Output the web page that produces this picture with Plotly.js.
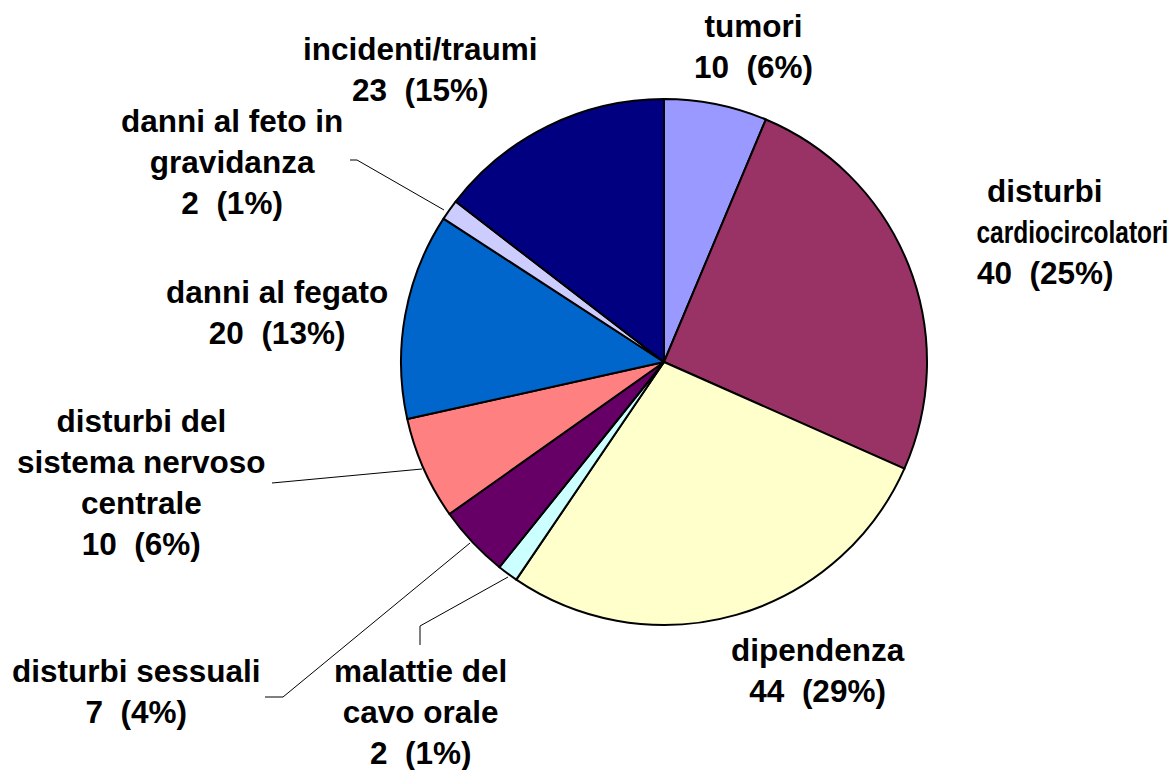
<!DOCTYPE html>
<html>
<head>
<meta charset="utf-8">
<script src="https://cdn.plot.ly/plotly-3.0.1.min.js"></script>
<style>html,body{margin:0;padding:0;background:#fff;}#chart{width:1176px;height:770px;}</style>
</head>
<body>
<div id="chart"></div>
<script>
// ---- data ----
var categories = ["tumori", "disturbi cardiocircolatori", "dipendenza", "malattie del cavo orale",
  "disturbi sessuali", "disturbi del sistema nervoso centrale", "danni al fegato",
  "danni al feto in gravidanza", "incidenti/traumi"];
var labelLines = [
  ["tumori"], ["disturbi", "cardiocircolatori"], ["dipendenza"], ["malattie del", "cavo orale"],
  ["disturbi sessuali"], ["disturbi del", "sistema nervoso", "centrale"], ["danni al fegato"],
  ["danni al feto in", "gravidanza"], ["incidenti/traumi"]];
var values = [10, 40, 44, 2, 7, 10, 20, 2, 23];
var percents = [6, 25, 29, 1, 4, 6, 13, 1, 15];
var colors = ["#9999FF", "#993366", "#FFFFCC", "#CCFFFF", "#660066", "#FF8080", "#0066CC", "#CCCCFF", "#000080"];

// ---- layout helpers (pixel -> paper) ----
var W = 1176, H = 770;
function px(x) { return x / W; }
function py(y) { return 1 - y / H; }
var FS = 31.5, LH = 1.3 * FS;
var font = {family: "Liberation Sans, Arial, sans-serif", size: FS, color: "#000", weight: "bold"};

// label anchor: center x, first-line baseline y (pixels)
var labelPos = [
  [753, 37], [1045, 202], [818, 661], [420, 682], [136, 682],
  [141, 432], [277, 303], [232, 132], [420, 60]
];

var annotations = [];
categories.forEach(function (c, i) {
  var lines = labelLines[i].concat([values[i] + "\u00A0 (" + percents[i] + "%)"]);
  if (i === 1) {
    lines.forEach(function (t, k) {
      var xc = (k === 1) ? 1072 : labelPos[i][0];
      annotations.push({text: t, xref: "paper", yref: "paper", x: px(xc),
        y: py(labelPos[i][1] + k * LH - 0.3465 * FS), xanchor: "center", yanchor: "middle",
        showarrow: false, font: font, align: "center", name: k === 1 ? "squeeze" : ""});
    });
    return;
  }
  var n = lines.length;
  var mid = labelPos[i][1] + (n - 1) * LH / 2 - 0.3465 * FS;
  annotations.push({text: lines.join("<br>"), xref: "paper", yref: "paper",
    x: px(labelPos[i][0]), y: py(mid), xanchor: "center", yanchor: "middle",
    showarrow: false, font: font, align: "center"});
});

function pathOf(pts) {
  return pts.map(function (p, k) { return (k ? "L" : "M") + px(p[0]) + "," + py(p[1]); }).join(" ");
}
var leaders = [
  [[444, 210], [357, 160], [350, 160]],
  [[422, 469], [272, 483]],
  [[470, 543], [283, 697], [265, 697]],
  [[508, 577], [420, 626], [420, 645]]
];
var shapes = leaders.map(function (pts) {
  return {type: "path", xref: "paper", yref: "paper", path: pathOf(pts),
    line: {color: "#000", width: 1}};
});

var cx = 664, cy = 362, r = 263;
var trace = {
  type: "pie",
  labels: categories,
  values: values,
  sort: false,
  direction: "clockwise",
  rotation: 0,
  marker: {colors: colors, line: {color: "#000", width: 2}},
  textinfo: "none",
  hoverinfo: "label+value",
  showlegend: false,
  domain: {x: [px(cx - r), px(cx + r)], y: [py(cy + r), py(cy - r)]}
};

var layout = {
  width: W, height: H,
  margin: {l: 0, r: 0, t: 0, b: 0},
  paper_bgcolor: "#fff",
  showlegend: false,
  annotations: annotations,
  shapes: shapes
};

Plotly.newPlot("chart", [trace], layout, {displayModeBar: false, staticPlot: true}).then(function () {
  var idx = annotations.findIndex(function (a) { return a.name === "squeeze"; });
  var el = document.querySelectorAll(".annotation")[idx];
  if (el) {
    var t = el.querySelector("text");
    if (t) {
      var bb = t.getBBox();
      var sx = 192 / bb.width;
      var c = bb.x + bb.width / 2;
      t.setAttribute("transform", "translate(" + c + ",0) scale(" + sx + ",1) translate(" + (-c) + ",0)");
    }
  }
});
</script>
</body>
</html>
